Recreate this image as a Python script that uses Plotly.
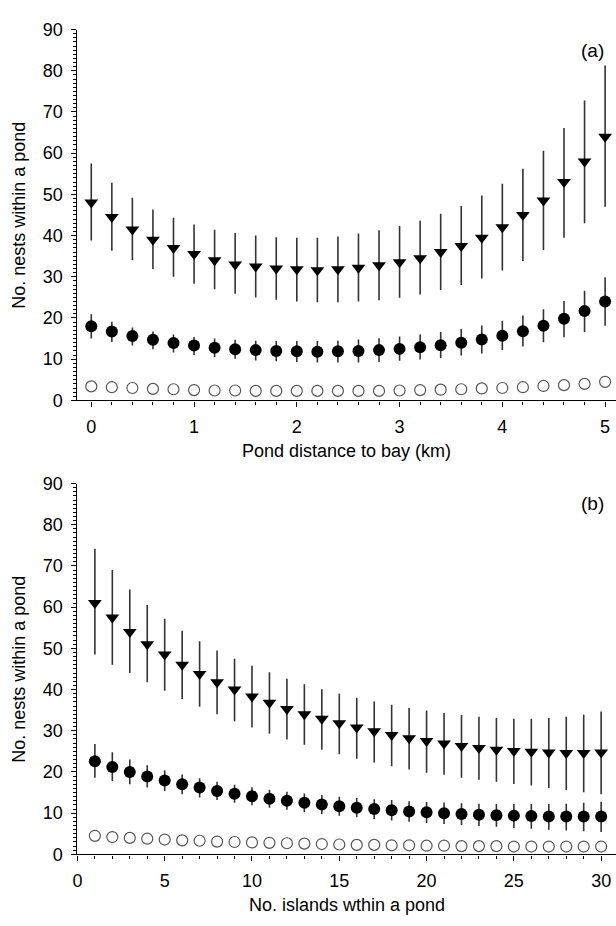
import plotly.graph_objects as go

W, H = 616, 926

# ---- Panel (a): pond distance to bay ----
dist_km = [round(0.2 * i, 1) for i in range(26)]
tri_a = [48, 44.5, 41.5, 39, 37, 35.5, 34, 33, 32.5, 32, 31.8, 31.6, 31.8, 32.2, 32.8, 33.5,
         34.5, 36, 37.5, 39.5, 42, 45, 48.5, 53, 58, 64]
tri_a_hi = [57.5, 52.8, 49.2, 46.3, 44.3, 42.7, 41.4, 40.6, 40, 39.6, 39.5, 39.5, 39.8, 40.5, 41.3,
            42.3, 43.6, 45.3, 47.2, 49.7, 52.6, 56.2, 60.6, 66.1, 72.8, 81.3]
tri_a_lo = [38.8, 36.3, 34, 31.9, 30, 28.3, 27, 25.9, 25, 24.4, 24, 23.8, 23.8, 24, 24.3, 24.9,
            25.7, 26.8, 28, 29.6, 31.5, 33.8, 36.5, 39.5, 43, 47]
dot_a = [18, 16.7, 15.6, 14.7, 13.9, 13.3, 12.8, 12.4, 12.2, 12, 11.9, 11.8, 11.9, 12, 12.2, 12.5,
         12.9, 13.4, 14, 14.8, 15.7, 16.8, 18.1, 19.8, 21.7, 24]
dot_a_hi = [20.9, 19.1, 17.7, 16.7, 16, 15.4, 15, 14.7, 14.5, 14.4, 14.4, 14.4, 14.5, 14.8, 15.1,
            15.5, 16, 16.6, 17.3, 18.2, 19.3, 20.6, 22.1, 24.1, 26.6, 29.9]
dot_a_lo = [15, 14.2, 13.3, 12.4, 11.6, 11, 10.5, 10.1, 9.7, 9.5, 9.3, 9.2, 9.2, 9.2, 9.3, 9.6,
            9.9, 10.3, 10.9, 11.4, 12.2, 13.1, 14.1, 15.3, 16.6, 18.1]
open_a = [3.4, 3.2, 3.0, 2.8, 2.7, 2.5, 2.4, 2.4, 2.3, 2.3, 2.3, 2.3, 2.3, 2.3, 2.3, 2.4, 2.5,
          2.6, 2.7, 2.9, 3.0, 3.2, 3.5, 3.7, 4.0, 4.5]

# ---- Panel (b): number of islands ----
islands = list(range(1, 31))
tri_b = [61, 57.5, 54, 51, 48.5, 46, 43.8, 41.8, 40, 38.3, 36.8, 35.3, 34, 32.9, 31.8, 30.8,
         29.9, 29, 28.2, 27.5, 26.9, 26.3, 25.8, 25.4, 25.1, 24.9, 24.7, 24.6, 24.6, 24.7]
tri_b_hi = [74.2, 69, 64.3, 60.5, 57.2, 54.3, 51.7, 49.5, 47.5, 45.8, 44.2, 42.6, 41.3, 40.1, 39,
            38, 37.1, 36.3, 35.5, 34.9, 34.3, 33.8, 33.4, 33.1, 32.9, 32.9, 33.1, 33.4, 33.9, 34.7]
tri_b_lo = [48.5, 46, 44, 41.8, 39.7, 37.7, 35.8, 34, 32.3, 30.8, 29.3, 27.9, 26.6, 25.4, 24.3,
            23.2, 22.3, 21.4, 20.6, 19.8, 19.3, 18.6, 18.1, 17.6, 17.1, 16.7, 16.1, 15.6, 15.1, 14.6]
dot_b = [22.6, 21.2, 20, 18.9, 17.9, 17, 16.2, 15.4, 14.7, 14.1, 13.5, 13, 12.5, 12.1, 11.7, 11.3,
         11, 10.7, 10.4, 10.2, 10, 9.8, 9.6, 9.5, 9.4, 9.3, 9.2, 9.2, 9.2, 9.2]
dot_b_hi = [26.8, 24.8, 23, 21.6, 20.4, 19.4, 18.5, 17.6, 16.9, 16.3, 15.7, 15.2, 14.8, 14.4, 14,
            13.7, 13.4, 13.2, 12.9, 12.7, 12.6, 12.4, 12.3, 12.2, 12.2, 12.2, 12.2, 12.3, 12.5, 12.8]
dot_b_lo = [18.6, 17.8, 17, 16.2, 15.4, 14.6, 13.8, 13.2, 12.5, 11.9, 11.3, 10.8, 10.3, 9.8, 9.4,
            9, 8.6, 8.2, 7.9, 7.6, 7.4, 7.1, 6.9, 6.7, 6.4, 6.2, 6, 5.8, 5.6, 5.4]
open_b = [4.5, 4.2, 4.0, 3.8, 3.6, 3.4, 3.3, 3.1, 3.0, 2.9, 2.8, 2.7, 2.6, 2.5, 2.4, 2.3, 2.3,
          2.2, 2.2, 2.1, 2.1, 2.0, 2.0, 2.0, 1.9, 1.9, 1.9, 1.9, 1.9, 1.9]

FONT = "Liberation Sans, Arial, sans-serif"
ERR_COL = "#333333"


def err(vals, hi, lo):
    return dict(type="data", symmetric=False,
                array=[h - v for h, v in zip(hi, vals)],
                arrayminus=[v - l for v, l in zip(vals, lo)],
                color=ERR_COL, thickness=1.6, width=0)


fig = go.Figure()

for xs, vals, hi, lo, sym, size, xa, ya in [
    (dist_km, tri_a, tri_a_hi, tri_a_lo, "triangle-down", 12, "x", "y"),
    (dist_km, dot_a, dot_a_hi, dot_a_lo, "circle", 12, "x", "y"),
    (islands, tri_b, tri_b_hi, tri_b_lo, "triangle-down", 12, "x2", "y2"),
    (islands, dot_b, dot_b_hi, dot_b_lo, "circle", 12, "x2", "y2"),
]:
    fig.add_trace(go.Scatter(
        x=xs, y=vals, mode="markers", xaxis=xa, yaxis=ya,
        marker=dict(symbol=sym, size=size, color="black", line=dict(width=0)),
        error_y=err(vals, hi, lo), showlegend=False))

for xs, vals, xa, ya in [(dist_km, open_a, "x", "y"), (islands, open_b, "x2", "y2")]:
    fig.add_trace(go.Scatter(
        x=xs, y=vals, mode="markers", xaxis=xa, yaxis=ya,
        marker=dict(symbol="circle-open", size=11, color="#555555", line=dict(width=1.2)),
        showlegend=False))

ax_common = dict(showline=True, linecolor="black", linewidth=1.3, showgrid=False,
                 zeroline=False, ticks="outside", ticklen=5, tickwidth=1.2, tickcolor="black",
                 tickfont=dict(family=FONT, size=18, color="black"))

x_left = 73 / W
top_dom = [1 - 399 / H, 1 - 20 / H]
bot_dom = [1 - 863 / H, 1 - 484 / H]

fig.update_layout(
    width=W, height=H, margin=dict(l=0, r=0, t=0, b=0),
    paper_bgcolor="white", plot_bgcolor="white",
    font=dict(family=FONT, color="black"),
    xaxis=dict(ax_common, domain=[x_left, 1], anchor="y", range=[-0.135, 5.106],
               tickmode="linear", tick0=0, dtick=1, ticklabelstandoff=5,
               minor=dict(ticks="outside", dtick=0.2, tick0=0, ticklen=3, tickcolor="black")),
    yaxis=dict(ax_common, domain=top_dom, anchor="x", range=[0, 90],
               tickmode="linear", tick0=0, dtick=10, ticklabelstandoff=5,
               minor=dict(ticks="outside", dtick=1, tick0=0, ticklen=3, tickcolor="black")),
    xaxis2=dict(ax_common, domain=[x_left, 1], anchor="y2", range=[0, 30.85],
                tickmode="linear", tick0=0, dtick=5, ticklabelstandoff=5,
                minor=dict(ticks="outside", dtick=1, tick0=0, ticklen=3, tickcolor="black")),
    yaxis2=dict(ax_common, domain=bot_dom, anchor="x2", range=[0, 90],
                tickmode="linear", tick0=0, dtick=10, ticklabelstandoff=5,
                minor=dict(ticks="outside", dtick=1, tick0=0, ticklen=3, tickcolor="black")),
)

ann_font = dict(family=FONT, size=18, color="black")
cx = (73 + W) / 2 / W
fig.add_annotation(text="Pond distance to bay (km)", xref="paper", yref="paper",
                   x=cx, y=1 - 451 / H, showarrow=False, font=ann_font,
                   xanchor="center", yanchor="middle")
fig.add_annotation(text="No. islands wthin a pond", xref="paper", yref="paper",
                   x=cx, y=1 - 915 / H, showarrow=False, font=ann_font,
                   xanchor="center", yanchor="middle")
for yc in [(20 + 399) / 2, (484 + 863) / 2]:
    fig.add_annotation(text="No. nests within a pond", xref="paper", yref="paper",
                       x=14 / W, y=1 - yc / H, showarrow=False, font=ann_font,
                       textangle=-90, xanchor="center", yanchor="middle")
fig.add_annotation(text="(a)", xref="paper", yref="paper", x=592 / W, y=1 - 41 / H,
                   showarrow=False, font=dict(family=FONT, size=19, color="black"),
                   xanchor="center", yanchor="middle")
fig.add_annotation(text="(b)", xref="paper", yref="paper", x=592 / W, y=1 - 504 / H,
                   showarrow=False, font=dict(family=FONT, size=19, color="black"),
                   xanchor="center", yanchor="middle")

fig.write_html("out.html")
